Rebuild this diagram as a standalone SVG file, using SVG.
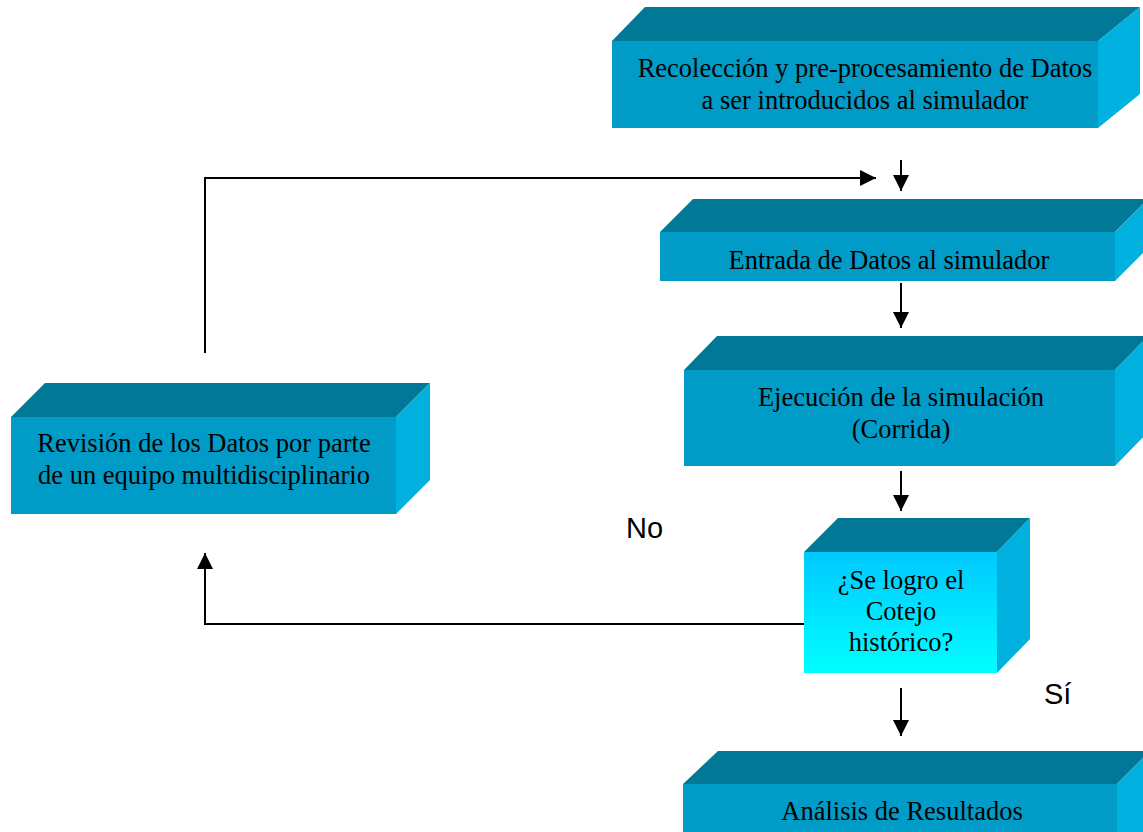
<svg xmlns="http://www.w3.org/2000/svg" width="1143" height="832" viewBox="0 0 1143 832">
<defs>
<style>
.top{fill:#007896}
.front{fill:#009CC7}
.side{fill:#00B0DE}
.t{font-family:"Liberation Serif","Times New Roman",serif;font-size:26.5px;fill:#000;text-anchor:middle}
.lbl{font-family:"Liberation Sans",Arial,sans-serif;font-size:29px;fill:#000}
.c{fill:none;stroke:#000;stroke-width:2}
</style>
<linearGradient id="dec" x1="0" y1="0" x2="0" y2="1">
<stop offset="0" stop-color="#00C8FF"/>
<stop offset="1" stop-color="#00FFFF"/>
</linearGradient>
<marker id="ah" viewBox="0 0 10 10" refX="10" refY="5" markerWidth="16" markerHeight="16" markerUnits="userSpaceOnUse" orient="auto">
<path d="M0,0 L10,5 L0,10 z" fill="#000"/>
</marker>
</defs>
<rect width="1143" height="832" fill="#fff"/>
<g id="n1">
<polygon class="top" points="612,41 645,7 1140,7 1098,41"/>
<polygon class="side" points="1098,41 1140,7 1140,94 1098,128"/>
<rect class="front" x="612" y="41" width="486" height="87"/>
<text class="t" x="865" y="77">Recolección y pre-procesamiento de Datos</text>
<text class="t" x="865" y="109">a ser introducidos al simulador</text>
</g>
<g id="n2">
<polygon class="top" points="660,232 693,199 1148,199 1115,232"/>
<polygon class="side" points="1115,232 1148,199 1148,248 1115,281"/>
<rect class="front" x="660" y="232" width="455" height="49"/>
<text class="t" x="889" y="269">Entrada de Datos al simulador</text>
</g>
<g id="n3">
<polygon class="top" points="684,370 717,336 1148,336 1115,370"/>
<polygon class="side" points="1115,370 1148,336 1148,432 1115,466"/>
<rect class="front" x="684" y="370" width="431" height="96"/>
<text class="t" x="901" y="406">Ejecución de la simulación</text>
<text class="t" x="901" y="438">(Corrida)</text>
</g>
<g id="n4">
<polygon class="top" points="11,417 45,383 430,383 396,417"/>
<polygon class="side" points="396,417 430,383 430,480 396,514"/>
<rect class="front" x="11" y="417" width="385" height="97"/>
<text class="t" x="204" y="452">Revisión de los Datos por parte</text>
<text class="t" x="204" y="484">de un equipo multidisciplinario</text>
</g>
<g id="n5">
<polygon class="top" points="804,552 838,518 1030,518 997,552"/>
<polygon class="side" points="997,552 1030,518 1030,639 997,673"/>
<rect fill="url(#dec)" x="804" y="552" width="193" height="121"/>
<text class="t" x="901" y="589">¿Se logro el</text>
<text class="t" x="901" y="620">Cotejo</text>
<text class="t" x="901" y="651">histórico?</text>
</g>
<g id="n6">
<polygon class="top" points="683,784 718,751 1150,751 1117,784"/>
<polygon class="side" points="1117,784 1150,751 1150,832 1117,832"/>
<rect class="front" x="683" y="784" width="434" height="60"/>
<text class="t" x="902" y="820">Análisis de Resultados</text>
</g>
<g id="connectors">
<line class="c" x1="901" y1="160" x2="901" y2="191" marker-end="url(#ah)"/>
<line class="c" x1="901" y1="283" x2="901" y2="328" marker-end="url(#ah)"/>
<line class="c" x1="901" y1="471" x2="901" y2="511" marker-end="url(#ah)"/>
<line class="c" x1="901" y1="688" x2="901" y2="736" marker-end="url(#ah)"/>
<polyline class="c" points="804,624 205,624 205,553" marker-end="url(#ah)"/>
<polyline class="c" points="205,353 205,178 876,178" marker-end="url(#ah)"/>
</g>
<text class="lbl" x="626" y="538">No</text>
<text class="lbl" x="1044" y="704">Sí</text>
</svg>
